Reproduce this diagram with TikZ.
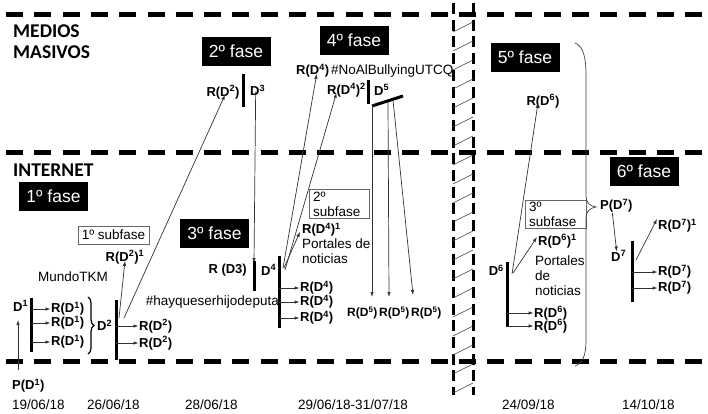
\documentclass[tikz,border=0pt]{standalone}
\usepackage{fontspec}
\setmainfont{Liberation Sans}
\newfontfamily\headfont{Carlito}
\usetikzlibrary{arrows.meta,decorations.pathreplacing,calc}
\newcommand{\su}[1]{\textsuperscript{#1}}
\begin{document}
\begin{tikzpicture}[x=1pt,y=-1pt,
  lbl/.style={font=\bfseries\fontsize{13}{14}\selectfont, inner sep=0pt},
  lbls/.style={font=\bfseries\fontsize{12}{13}\selectfont, inner sep=0pt},
  txt/.style={font=\fontsize{13.5}{15}\selectfont, inner sep=0pt},
  head/.style={font=\headfont\bfseries\fontsize{19.5}{21}\selectfont, inner sep=0pt, anchor=west},
  fase/.style={fill=black, text=white, font=\fontsize{17.5}{19}\selectfont,
               minimum width=69pt, minimum height=29pt, inner sep=0pt},
  subbox/.style={draw=black!60, line width=0.7pt, fill=white,
                 font=\fontsize{13.5}{15}\selectfont},
  bar/.style={line width=3pt},
  arr/.style={draw=black!80, line width=0.7pt, -{Latex[length=5pt,width=3.5pt]}},
  hdash/.style={line width=5pt, dash pattern=on 17pt off 11.3pt},
  vdash/.style={line width=3pt, dash pattern=on 11pt off 5.7pt},
  hatch/.style={draw=black!75, line width=0.6pt},
  date/.style={font=\fontsize{13.5}{15}\selectfont, inner sep=0pt, anchor=west},
]
\useasboundingbox (0,0) rectangle (708,413);

% ---- channel separators
\draw[hdash] (6,14) -- (708,14);
\draw[hdash] (6,152) -- (708,152);
\draw[hdash] (6,361) -- (708,361);

% ---- time break
\draw[vdash] (453,3) -- (453,395);
\draw[vdash] (473,3) -- (473,395);
\foreach \y in {22,41,...,385} \draw[hatch] (453,\y+10) -- (473,\y);

% ---- channel names
\node[head] (medios) at (13,31) {MEDIOS};
\node[head] (masivos) at (13,52) {MASIVOS};
\node[head] (internet) at (13,170.5) {INTERNET};

% ---- phases
\node[fase] (f1) at (53.5,196.5) {1º fase};
\node[fase] (f2) at (236,51.5) {2º fase};
\node[fase] (f3) at (214.5,233) {3º fase};
\node[fase] (f4) at (354,40.5) {4º fase};
\node[fase] (f5) at (525,57.5) {5º fase};
\node[fase] (f6) at (644,171) {6º fase};

% ---- sub-phases
\node[subbox, minimum width=71pt, minimum height=18pt, inner sep=0pt] (s1) at (113.5,235) {1º subfase};
\node[subbox, text width=52pt, align=left, inner xsep=4pt, inner ysep=2pt] (s2) at (339,204) {2º\\subfase};
\node[subbox, text width=53pt, align=left, inner xsep=4pt, inner ysep=2pt] (s3) at (555.5,214.5) {3º\\subfase};

% ---- phase 1
\node[lbl, anchor=west] (d1) at (13,306) {D\su{1}};
\node[lbl, anchor=west] (pd1) at (12,386) {P(D\su{1})};
\coordinate (pd1a) at (18,370);
\coordinate (d1a) at (18,320);
\draw[arr] (pd1a) -- (d1a);
\draw[bar] (31,298) coordinate (b1t) -- (31,352) coordinate (b1b);
\node[lbl, anchor=west] (r11) at (51,309) {R(D\su{1})};
\node[lbl, anchor=west] (r12) at (51,323) {R(D\su{1})};
\node[lbl, anchor=west] (r13) at (51,342) {R(D\su{1})};
\foreach \r in {r11,r12,r13} \draw[arr, shorten >=0.5pt] (b1t |- \r.west) -- (\r.west);
\draw[line width=1.2pt, decorate, decoration={brace, amplitude=6pt}] (88,297) -- (88,354);
\node[lbl, anchor=west] (d2) at (97,325) {D\su{2}};
\draw[bar] (116,300) coordinate (b2t) -- (116,360) coordinate (b2b);
\node[lbl, anchor=west] (r21) at (139,326) {R(D\su{2})};
\node[lbl, anchor=west] (r22) at (139,343) {R(D\su{2})};
\foreach \r in {r21,r22} \draw[arr, shorten >=0.5pt] (b2t |- \r.west) -- (\r.west);
\node[txt] (mundo) at (73,277) {MundoTKM};
\node[lbl] (r2s) at (125,257) {R(D\su{2})\su{1}};
\coordinate (b2s) at (119,318);
\coordinate (b2m) at (124,318);
\draw[arr] (b2s) -- ([yshift=3pt]r2s.south);

% ---- phase 2 (mass media)
\node[lbl] (r2m) at (223,92) {R(D\su{2})};
\draw[arr] (b2m) -- ([xshift=2pt,yshift=4pt]r2m.south);
\draw[bar] (243,74) -- (243,107);
\node[lbl, anchor=west] (d3) at (250,90) {D\su{3}};

% ---- phase 3
\node[lbl, anchor=east] (rd3) at (247,270) {R (D3)};
\draw[bar] (254,261) coordinate (b4a) -- (254,291);
\draw[arr] ([xshift=-2pt,yshift=4pt]d3.south) -- ([yshift=-2pt]b4a);
\node[lbl, anchor=west] (d4) at (261,270) {D\su{4}};
\draw[bar] (279,256) coordinate (b4t) -- (279,328);
\node[txt, anchor=east] (hay) at (279,302) {\#hayqueserhijodeputa};
\node[lbl, anchor=west] (r41) at (300,288) {R(D\su{4})};
\node[lbl, anchor=west] (r42) at (300,302) {R(D\su{4})};
\node[lbl, anchor=west] (r43) at (300,318) {R(D\su{4})};
\foreach \r in {r41,r42,r43} \draw[arr, shorten >=0.5pt] (b4t |- \r.west) -- (\r.west);
\node[lbl, anchor=west] (r4s) at (302,230) {R(D\su{4})\su{1}};
\node[txt, anchor=north west, align=left] (port4) at (302,239) {Portales de\\noticias};

% ---- phase 4 (mass media)
\node[lbl, anchor=west] (r4m) at (296,71) {R(D\su{4})};
\node[txt, anchor=west] (hash2) at (331,71) {\#NoAlBullyingUTCQ};
\node[lbl, anchor=west] (r4m2) at (327,90) {R(D\su{4})\su{2}};
\coordinate (b4u1) at (283,268);
\coordinate (b4u2) at (285,270);
\coordinate (b4u3) at (284,268);
\draw[arr] (b4u1) -- ([xshift=4pt,yshift=4pt]r4m.south);
\draw[arr] (b4u2) -- ([xshift=-10pt,yshift=4pt]r4m2.south);
\draw[arr] (b4u3) -- ([xshift=-2pt,yshift=5pt]r4s.south west);
\draw[bar] (368,80) -- (368,104);
\node[lbl, anchor=west] (d5) at (374,90) {D\su{5}};
\draw[bar] (372,106) coordinate (s5a) -- (403,96) coordinate (s5b);
\coordinate (s5m) at (388,102);
\coordinate (s5n) at (393,100);
\node[lbls, anchor=west] (r51) at (347,313) {R(D\su{5})};
\node[lbls, anchor=west] (r52) at (379,313) {R(D\su{5})};
\node[lbls, anchor=west] (r53) at (411,313) {R(D\su{5})};
\coordinate (t51) at (372,297);
\coordinate (t52) at (389,297);
\coordinate (t53) at (413,295);
\draw[arr] (s5a) -- (t51);
\draw[arr] (s5m) -- (t52);
\draw[arr] (s5n) -- (t53);

% ---- phase 5
\node[lbl] (r6m) at (543,101) {R(D\su{6})};
\node[lbl, anchor=east] (d6) at (504,270) {D\su{6}};
\draw[bar] (507,262) coordinate (b6t) -- (507,327);
\coordinate (b6u1) at (512,274);
\coordinate (b6u2) at (513,273);
\draw[arr] (b6u1) -- ([xshift=-5pt,yshift=5pt]r6m.south);
\node[lbl, anchor=west] (r6s) at (538,241) {R(D\su{6})\su{1}};
\draw[arr] (b6u2) -- ([xshift=-1pt,yshift=4pt]r6s.west);
\node[txt, anchor=north west, align=left] (port6) at (535,256) {Portales\\de\\noticias};
\node[lbl, anchor=west] (r61) at (534,313) {R(D\su{6})};
\node[lbl, anchor=west] (r62) at (534,326) {R(D\su{6})};
\foreach \r in {r61,r62} \draw[arr, shorten >=0.5pt] (b6t |- \r.west) -- (\r.west);

% ---- grouping brace
\draw[draw=black!75, line width=0.7pt]
  (575,43) .. controls (584,46) and (586,60) .. (586,75) -- (586,196)
  .. controls (586,203) and (590,206) .. (596,207)
  .. controls (590,208) and (586,211) .. (586,218) -- (586,340)
  .. controls (586,355) and (583,363) .. (575,366);

% ---- phase 6
\node[lbl, anchor=west] (pd7) at (600,206) {P(D\su{7})};
\node[lbl, anchor=west] (d7) at (611,256) {D\su{7}};
\draw[arr] ([xshift=-4pt]pd7.south) -- ([xshift=-2pt,yshift=-1pt]d7.north);
\draw[bar] (632,241) coordinate (b7t) -- (632,302);
\node[lbl, anchor=west] (r7s) at (658,226) {R(D\su{7})\su{1}};
\node[lbl, anchor=west] (r71) at (658,272) {R(D\su{7})};
\node[lbl, anchor=west] (r72) at (658,288) {R(D\su{7})};
\coordinate (b7u) at (636,260);
\draw[arr] (b7u) -- ([xshift=-1pt,yshift=7pt]r7s.west);
\foreach \r in {r71,r72} \draw[arr, shorten >=0.5pt] (b7t |- \r.west) -- (\r.west);

% ---- dates
\node[date] (t1) at (12,405) {19/06/18};
\node[date] (t2) at (87,405) {26/06/18};
\node[date] (t3) at (185,405) {28/06/18};
\node[date] (t4) at (298,405) {29/06/18-31/07/18};
\node[date] (t5) at (502,405) {24/09/18};
\node[date] (t6) at (622,405) {14/10/18};
\end{tikzpicture}
\end{document}
